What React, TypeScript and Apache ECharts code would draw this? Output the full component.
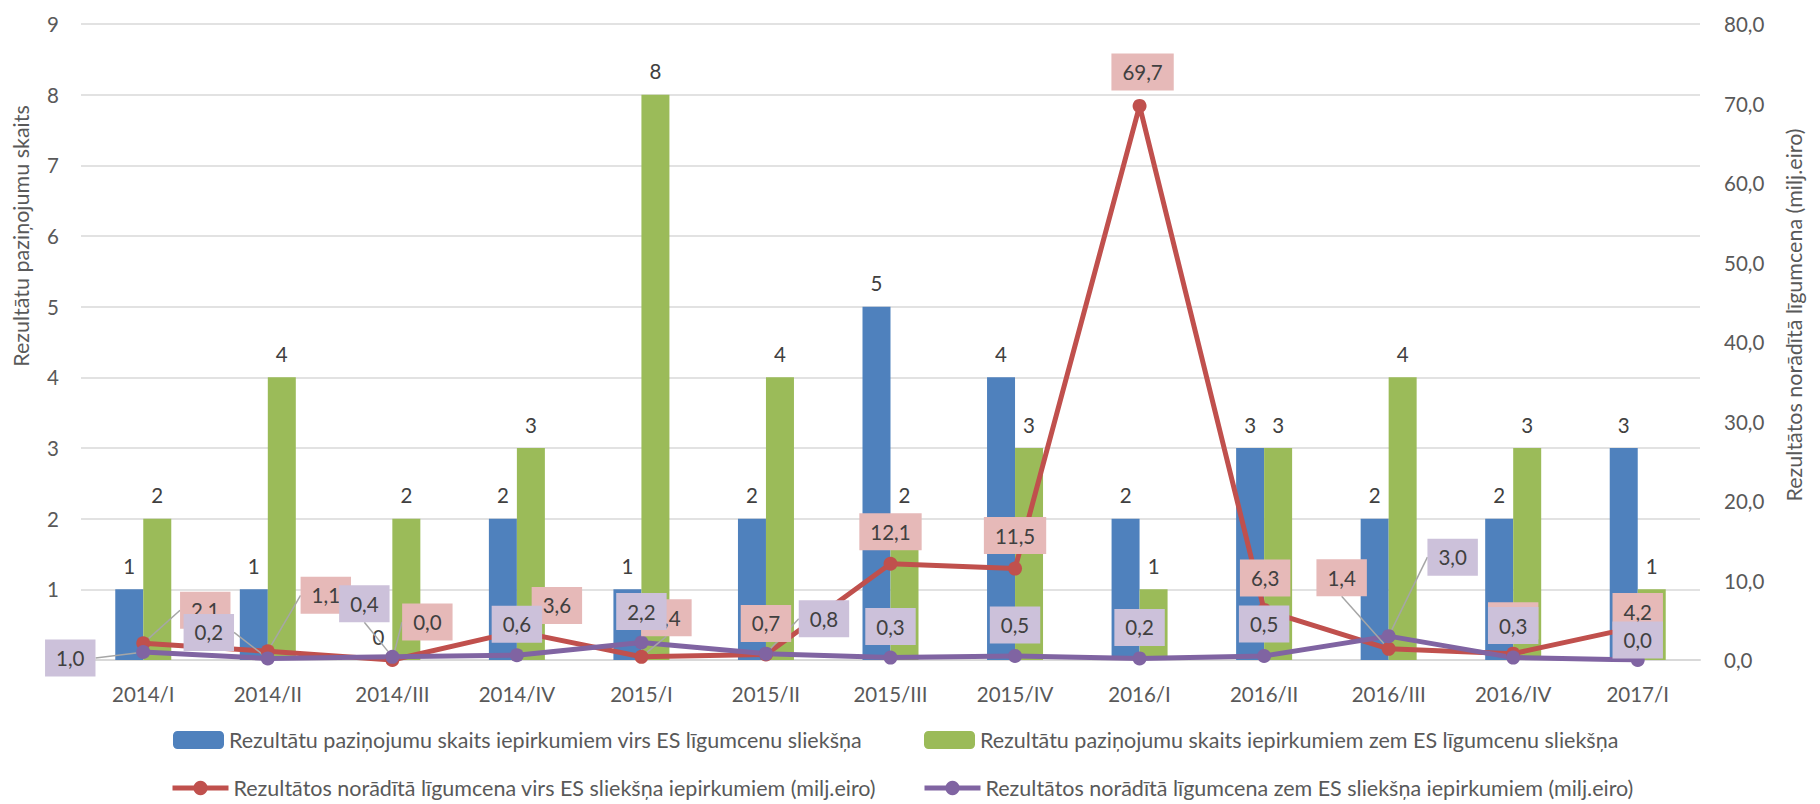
import React, { useEffect, useRef } from "react";
import * as echarts from "echarts";

const categories = ["2014/I", "2014/II", "2014/III", "2014/IV", "2015/I", "2015/II", "2015/III", "2015/IV", "2016/I", "2016/II", "2016/III", "2016/IV", "2017/I"];
const aboveCount = [1, 1, 0, 2, 1, 2, 5, 4, 2, 3, 2, 2, 3];
const belowCount = [2, 4, 2, 3, 8, 4, 2, 3, 1, 3, 4, 3, 1];
const aboveValue = [2.1, 1.1, 0.0, 3.6, 0.4, 0.7, 12.1, 11.5, 69.7, 6.3, 1.4, 0.8, 4.2];
const belowValue = [1.0, 0.2, 0.4, 0.6, 2.2, 0.8, 0.3, 0.5, 0.2, 0.5, 3.0, 0.3, 0.0];
const leftTicks = [0, 9, 1];
const rightTicks = [0, 80, 10];

const names = [
  "Rezultātu paziņojumu skaits iepirkumiem virs ES līgumcenu sliekšņa",
  "Rezultātu paziņojumu skaits iepirkumiem zem ES līgumcenu sliekšņa",
  "Rezultātos norādītā līgumcena virs ES sliekšņa iepirkumiem (milj.eiro)",
  "Rezultātos norādītā līgumcena zem ES sliekšņa iepirkumiem (milj.eiro)",
];

// label placement (offset of label centre from its point)
const redOffsets = [[62, -33], [58, -56], [35, -38], [40, -26], [25, -39], [0, -31], [0, -32], [0, -33], [3, -34], [1, -32], [-47, -71], [0, -33], [0, -15]];
const purpleOffsets = [[-73, 6], [-59, -26], [-28, -53], [0, -31], [0, -31], [58, -35], [0, -31], [0, -31], [0, -31], [0, -32], [64, -79], [0, -32], [0, -20]];
const redLeader = [1, 1, 1, 0, 1, 0, 0, 0, 0, 0, 1, 0, 0];
const purpleLeader = [1, 1, 1, 0, 0, 1, 0, 0, 0, 0, 1, 0, 0];

const FONT = "Lato, 'Liberation Sans', sans-serif";
const FS = 20.5;
const LFS = 21.5;
const fmt = (v: number) => v.toFixed(1).replace(".", ",");

export default function App() {
  const ref = useRef<HTMLDivElement>(null);
  useEffect(() => {
    document.body.style.margin = "0";
    const chart = echarts.init(ref.current!, null, { renderer: "svg" });
    const lineLabel = (bg: string) => ({
      show: true,
      position: "inside",
      formatter: (p: any) => fmt(p.value),
      backgroundColor: bg,
      padding: [8, 11],
      color: "#404040",
      fontSize: 20.5,
      lineHeight: 21,
      fontFamily: FONT,
    });
    const legendBase = {
      orient: "horizontal",
      padding: 0,
      itemHeight: 18,
      textStyle: { color: "#595959", fontSize: LFS, fontFamily: FONT },
      selectedMode: false,
    };
    chart.setOption({
      animation: false,
      textStyle: { fontFamily: FONT },
      grid: { left: 81, right: 120, top: 24, bottom: 144, containLabel: false },
      legend: [
        { ...legendBase, data: [names[0]], left: 173, top: 729, itemWidth: 51 },
        { ...legendBase, data: [names[1]], left: 924, top: 729, itemWidth: 51 },
        { ...legendBase, data: [names[2]], left: 170, top: 777, itemWidth: 56, lineStyle: { width: 5 } },
        { ...legendBase, data: [names[3]], left: 922, top: 777, itemWidth: 56, lineStyle: { width: 5 } },
      ],
      xAxis: {
        type: "category",
        data: categories,
        axisTick: { show: false },
        axisLine: { lineStyle: { color: "#D9D9D9", width: 2 } },
        axisLabel: { color: "#595959", fontSize: FS, fontFamily: FONT, margin: 23 },
      },
      yAxis: [
        {
          type: "value",
          min: leftTicks[0],
          max: leftTicks[1],
          interval: leftTicks[2],
          axisLine: { show: false },
          axisTick: { show: false },
          splitLine: { lineStyle: { color: "#D9D9D9", width: 1.5 } },
          axisLabel: { color: "#595959", fontSize: FS, fontFamily: FONT, margin: 22 },
        },
        {
          type: "value",
          min: rightTicks[0],
          max: rightTicks[1],
          interval: rightTicks[2],
          axisLine: { show: false },
          axisTick: { show: false },
          splitLine: { show: false },
          axisLabel: { color: "#595959", fontSize: FS, fontFamily: FONT, margin: 24, formatter: (v: number) => fmt(v) },
        },
      ],
      graphic: [
        {
          type: "text",
          x: 21,
          y: 236,
          rotation: Math.PI / 2,
          style: { text: "Rezultātu paziņojumu skaits", align: "center", verticalAlign: "middle", fill: "#595959", font: `${FS + 1}px ${FONT}` },
        },
        {
          type: "text",
          x: 1794,
          y: 315,
          rotation: Math.PI / 2,
          style: { text: "Rezultātos norādītā līgumcena (milj.eiro)", align: "center", verticalAlign: "middle", fill: "#595959", font: `${FS + 1}px ${FONT}` },
        },
      ],
      series: [
        {
          name: names[0],
          type: "bar",
          data: aboveCount,
          barWidth: 28,
          barGap: "0%",
          itemStyle: { color: "#4F81BD" },
          label: { show: true, position: "top", distance: 13, color: "#404040", fontSize: FS, fontFamily: FONT },
        },
        {
          name: names[1],
          type: "bar",
          data: belowCount,
          barWidth: 28,
          barGap: "0%",
          itemStyle: { color: "#9BBB59" },
          label: { show: true, position: "top", distance: 13, color: "#404040", fontSize: FS, fontFamily: FONT },
        },
        {
          name: names[2],
          type: "line",
          yAxisIndex: 1,
          data: aboveValue.map((v, i) => ({ value: v, labelLine: { show: redLeader[i] === 1 } })),
          symbol: "circle",
          symbolSize: 14,
          lineStyle: { color: "#C0504D", width: 5 },
          itemStyle: { color: "#C0504D" },
          label: lineLabel("#E6B9B8"),
          labelLine: { show: false, lineStyle: { color: "#A6A6A6", width: 1.5 } },
          labelLayout: (p: any) => ({ dx: redOffsets[p.dataIndex][0], dy: redOffsets[p.dataIndex][1] }),
        },
        {
          name: names[3],
          type: "line",
          yAxisIndex: 1,
          data: belowValue.map((v, i) => ({ value: v, labelLine: { show: purpleLeader[i] === 1 } })),
          symbol: "circle",
          symbolSize: 14,
          lineStyle: { color: "#8064A2", width: 5 },
          itemStyle: { color: "#8064A2" },
          label: lineLabel("#CCC1DA"),
          labelLine: { show: false, lineStyle: { color: "#A6A6A6", width: 1.5 } },
          labelLayout: (p: any) => ({ dx: purpleOffsets[p.dataIndex][0], dy: purpleOffsets[p.dataIndex][1] }),
        },
      ],
    });
    return () => chart.dispose();
  }, []);
  return <div ref={ref} style={{ position: "absolute", left: 0, top: 0, width: 1820, height: 804, background: "#fff" }} />;
}
